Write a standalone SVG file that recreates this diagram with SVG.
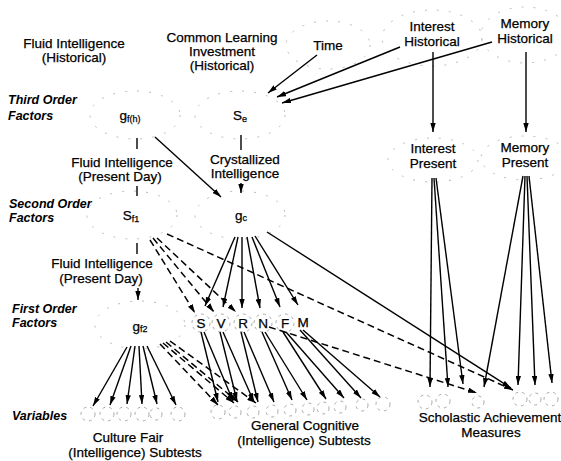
<svg xmlns="http://www.w3.org/2000/svg" width="561" height="461" viewBox="0 0 561 461">
<style>
text{font-family:"Liberation Sans",Arial,sans-serif;font-size:13.5px;fill:#000;text-anchor:middle;stroke:#000;stroke-width:0.25}
.lab{font-weight:bold;font-style:italic;font-size:12.5px;text-anchor:start;stroke:none}
.sub{font-size:9px}
.halo{fill:none;stroke:#bbb;stroke-width:1;stroke-dasharray:2 10}
.sm{fill:none;stroke:#aaa;stroke-width:1;stroke-dasharray:3 4}
.s{fill:none;stroke:#000;stroke-width:1.4}
.a{fill:none;stroke:#000;stroke-width:1.4;marker-end:url(#ah)}
.d{fill:none;stroke:#000;stroke-width:1.5;stroke-dasharray:7 4;marker-end:url(#ah)}
</style>
<defs>
<marker id="ah" viewBox="0 0 10 6" refX="10" refY="3" markerWidth="9" markerHeight="5.5" markerUnits="userSpaceOnUse" orient="auto"><path d="M0,0 L10,3 L0,6 z" fill="#000"/></marker>
</defs>
<rect width="561" height="461" fill="#fff"/>

<g id="labels">
<text class="lab" x="8" y="104">Third Order</text>
<text class="lab" x="8" y="120">Factors</text>
<text class="lab" x="9" y="208">Second Order</text>
<text class="lab" x="9" y="222">Factors</text>
<text class="lab" x="12" y="313">First Order</text>
<text class="lab" x="12" y="327">Factors</text>
<text class="lab" x="12" y="420">Variables</text>
</g>

<g id="fluid-historical"><text x="74" y="48">Fluid Intelligence</text><text x="74" y="62">(Historical)</text></g>
<g id="common-learning"><text x="222" y="42">Common Learning</text><text x="222" y="56">Investment</text><text x="222" y="70">(Historical)</text></g>
<g id="time"><ellipse class="halo" cx="328" cy="45" rx="42" ry="24"/><text x="328" y="50">Time</text></g>
<g id="interest-historical"><ellipse class="halo" cx="432" cy="38" rx="50" ry="28"/><text x="432" y="31">Interest</text><text x="432" y="46">Historical</text></g>
<g id="memory-historical"><ellipse class="halo" cx="525" cy="35" rx="44" ry="28"/><text x="525" y="28">Memory</text><text x="525" y="43">Historical</text></g>

<g id="gfh"><ellipse class="halo" cx="135" cy="115" rx="45" ry="24"/><text x="130" y="120">g<tspan class="sub" dy="2">f(h)</tspan></text></g>
<g id="se"><ellipse class="halo" cx="240" cy="115" rx="45" ry="24"/><text x="240" y="120">S<tspan class="sub" dy="2">e</tspan></text></g>
<g id="fluid-present-1"><text x="122" y="167">Fluid Intelligence</text><text x="120" y="181">(Present Day)</text></g>
<g id="crystallized"><text x="245" y="164">Crystallized</text><text x="245" y="178">Intelligence</text></g>
<g id="interest-present"><ellipse class="halo" cx="433" cy="160" rx="45" ry="22"/><text x="433" y="153">Interest</text><text x="433" y="168">Present</text></g>
<g id="memory-present"><ellipse class="halo" cx="525" cy="158" rx="44" ry="22"/><text x="525" y="152">Memory</text><text x="525" y="167">Present</text></g>

<g id="sf1"><ellipse class="halo" cx="132" cy="215" rx="45" ry="24"/><text x="131" y="220">S<tspan class="sub" dy="2">f1</tspan></text></g>
<g id="gc"><ellipse class="halo" cx="240" cy="215" rx="45" ry="24"/><text x="241" y="220">g<tspan class="sub" dy="1">c</tspan></text></g>
<g id="fluid-present-2"><text x="102" y="268">Fluid Intelligence</text><text x="101" y="283">(Present Day)</text></g>

<g id="gf2"><ellipse class="halo" cx="140" cy="325" rx="45" ry="24"/><text x="140" y="331">g<tspan class="sub" dy="1">f2</tspan></text></g>
<g id="S"><circle class="sm" cx="201" cy="323" r="9"/><text x="201" y="328">S</text></g>
<g id="V"><circle class="sm" cx="221" cy="323" r="9"/><text x="221" y="328">V</text></g>
<g id="R"><circle class="sm" cx="243" cy="323" r="9"/><text x="243" y="328">R</text></g>
<g id="N"><circle class="sm" cx="263" cy="323" r="9"/><text x="263" y="328">N</text></g>
<g id="F"><circle class="sm" cx="285" cy="323" r="9"/><text x="285" y="328">F</text></g>
<g id="M"><text x="303" y="327">M</text></g>

<g id="culture-fair">
<circle class="sm" cx="88" cy="414" r="7"/><circle class="sm" cx="107" cy="414" r="7"/><circle class="sm" cx="124" cy="414" r="7"/><circle class="sm" cx="142" cy="414" r="7"/><circle class="sm" cx="156" cy="414" r="6"/><circle class="sm" cx="178" cy="414" r="7"/>
<text x="128" y="442">Culture Fair</text><text x="135" y="457">(Intelligence) Subtests</text>
</g>
<g id="general-cognitive">
<circle class="sm" cx="218" cy="412" r="7"/><circle class="sm" cx="235" cy="412" r="6"/><circle class="sm" cx="253" cy="412" r="6"/><circle class="sm" cx="272" cy="411" r="6"/><circle class="sm" cx="290" cy="410" r="6"/><circle class="sm" cx="308" cy="409" r="6"/><circle class="sm" cx="323" cy="408" r="6"/><circle class="sm" cx="340" cy="407" r="6"/><circle class="sm" cx="362" cy="405" r="6"/><circle class="sm" cx="383" cy="404" r="7"/>
<text x="305" y="430">General Cognitive</text><text x="304" y="445">(Intelligence) Subtests</text>
</g>
<g id="scholastic">
<circle class="sm" cx="425" cy="402" r="7"/><circle class="sm" cx="443" cy="401" r="7"/><circle class="sm" cx="478" cy="402" r="6"/><circle class="sm" cx="520" cy="399" r="7"/><circle class="sm" cx="535" cy="399" r="6"/><circle class="sm" cx="551" cy="399" r="7"/>
<text x="490" y="422">Scholastic Achievement</text><text x="491" y="437">Measures</text>
</g>

<g id="connectors">
<path class="a" d="M317,55 L268,93"/>
<path class="a" d="M400,47 L277,97"/>
<path class="a" d="M492,42 L282,103"/>
<path class="a" d="M433,52 L433,132"/>
<path class="a" d="M526,52 L526,132"/>
<path class="s" d="M241,135 L241,150"/>
<path class="a" d="M241,183 L241,193"/>
<path class="s" d="M137,138 L137,149"/>
<path class="s" d="M137,186 L137,196"/>
<path class="a" d="M155,137 L221,197"/>
<path class="s" d="M137,243 L137,254"/>
<path class="a" d="M138,288 L138,300"/>

<path class="d" d="M150,240 L195,313"/>
<path class="d" d="M153,238 L214,312"/>
<path class="d" d="M157,238 L236,312"/>
<path class="d" d="M167,234 L513,390"/>

<path class="a" d="M235,237 L205,306"/>
<path class="a" d="M238,237 L223,307"/>
<path class="a" d="M242,237 L242,308"/>
<path class="a" d="M247,237 L260,308"/>
<path class="a" d="M252,237 L280,307"/>
<path class="a" d="M255,236 L298,305"/>
<path class="a" d="M267,232 L511,388"/>

<path class="a" d="M201,332 L218,402"/>
<path class="a" d="M204,332 L233,401"/>
<path class="a" d="M220,332 L237,401"/>
<path class="a" d="M223,332 L254,402"/>
<path class="a" d="M241,332 L258,402"/>
<path class="a" d="M244,332 L274,402"/>
<path class="a" d="M262,332 L292,400"/>
<path class="a" d="M265,332 L307,400"/>
<path class="a" d="M283,332 L326,399"/>
<path class="a" d="M286,332 L344,398"/>
<path class="a" d="M300,330 L361,398"/>
<path class="a" d="M303,330 L380,397"/>
<path class="d" d="M269,327 L477,393"/>

<path class="a" d="M127,347 L93,406"/>
<path class="a" d="M131,346 L110,405"/>
<path class="a" d="M135,346 L127,404"/>
<path class="a" d="M139,346 L142,404"/>
<path class="a" d="M143,346 L157,404"/>
<path class="a" d="M147,346 L176,405"/>
<path class="d" d="M160,344 L218,405"/>
<path class="d" d="M163,343 L234,403"/>
<path class="d" d="M166,342 L238,402"/>
<path class="d" d="M170,341 L256,403"/>

<path class="a" d="M432,178 L430,387"/>
<path class="a" d="M434,178 L448,387"/>
<path class="a" d="M436,178 L463,384"/>
<path class="a" d="M523,176 L484,387"/>
<path class="a" d="M525,176 L518,385"/>
<path class="a" d="M527,176 L535,385"/>
<path class="a" d="M529,176 L552,383"/>
</g>
</svg>
